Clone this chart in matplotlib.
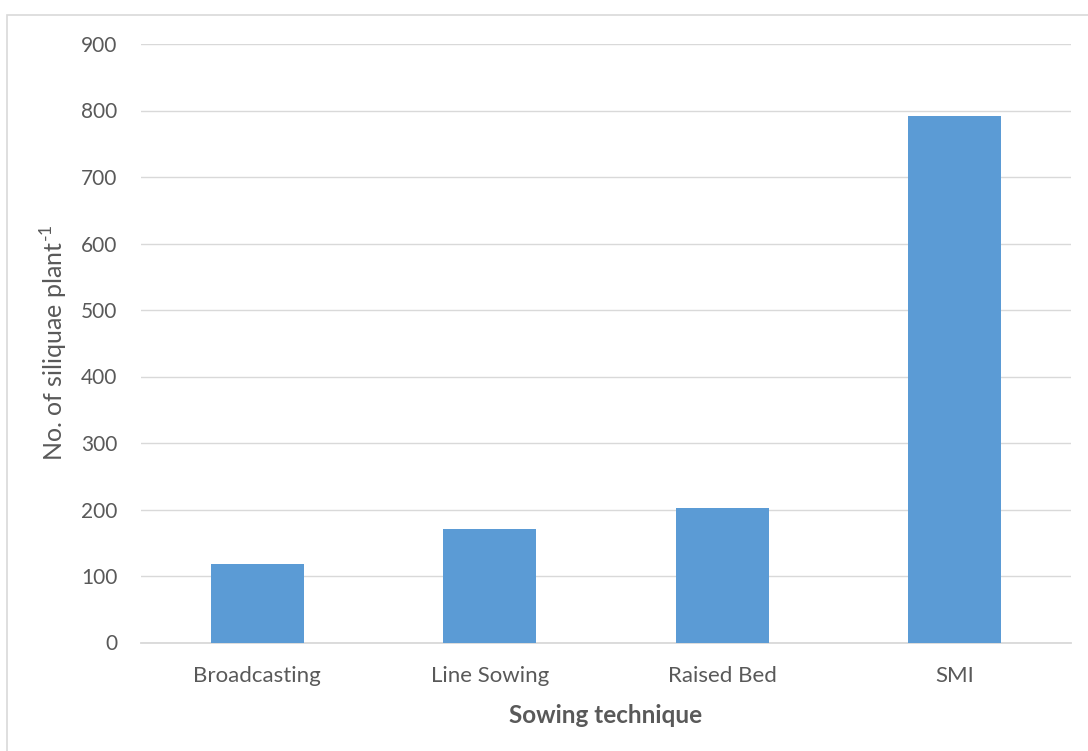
import matplotlib.pyplot as plt
from matplotlib.patches import Rectangle

# Siliquae count per plant for each sowing technique
techniques = ['Broadcasting', 'Line Sowing', 'Raised Bed', 'SMI']
siliquae = [118, 170, 203, 791]
y_ticks = [0, 100, 200, 300, 400, 500, 600, 700, 800, 900]

plt.rcParams['font.family'] = ['Lato', 'DejaVu Sans']
plt.rcParams['mathtext.fontset'] = 'custom'
plt.rcParams['mathtext.rm'] = 'Lato'

fig = plt.figure(figsize=(10.88, 7.51), dpi=100)
ax = fig.add_axes([141 / 1088, 1 - 642.5 / 751, 930 / 1088, 598.5 / 751])

# Thin frame around the chart area
fig.patches.append(Rectangle((7 / 1088, -0.1), 1.2, 1.1 - 15 / 751,
                             transform=fig.transFigure, fill=False,
                             edgecolor='#d9d9d9', linewidth=1.2))

ax.bar(techniques, siliquae, width=0.4, color='#5B9BD5', zorder=3)

ax.set_ylim(0, 900)
ax.set_xlim(-0.5, len(techniques) - 0.5)
ax.set_yticks(y_ticks)
ax.yaxis.grid(True, color='#d9d9d9', linewidth=1.0, zorder=0)

for side in ['top', 'right', 'left']:
    ax.spines[side].set_visible(False)
ax.spines['bottom'].set_color('#d9d9d9')
ax.spines['bottom'].set_linewidth(1.3)

ax.tick_params(axis='both', length=0, colors='#595959')
ax.tick_params(axis='y', pad=17, labelsize=15)
ax.tick_params(axis='x', pad=17, labelsize=16)

ax.set_xlabel('Sowing technique', fontsize=17.5, fontweight='bold', color='#595959')
ax.xaxis.set_label_coords(0.499, -0.102)
ax.set_ylabel('No. of siliquae plant$^{\\text{-1}}$', fontsize=18, color='#595959')
ax.yaxis.set_label_coords(-0.076, 0.5)

fig.savefig('out.png', dpi=100)
